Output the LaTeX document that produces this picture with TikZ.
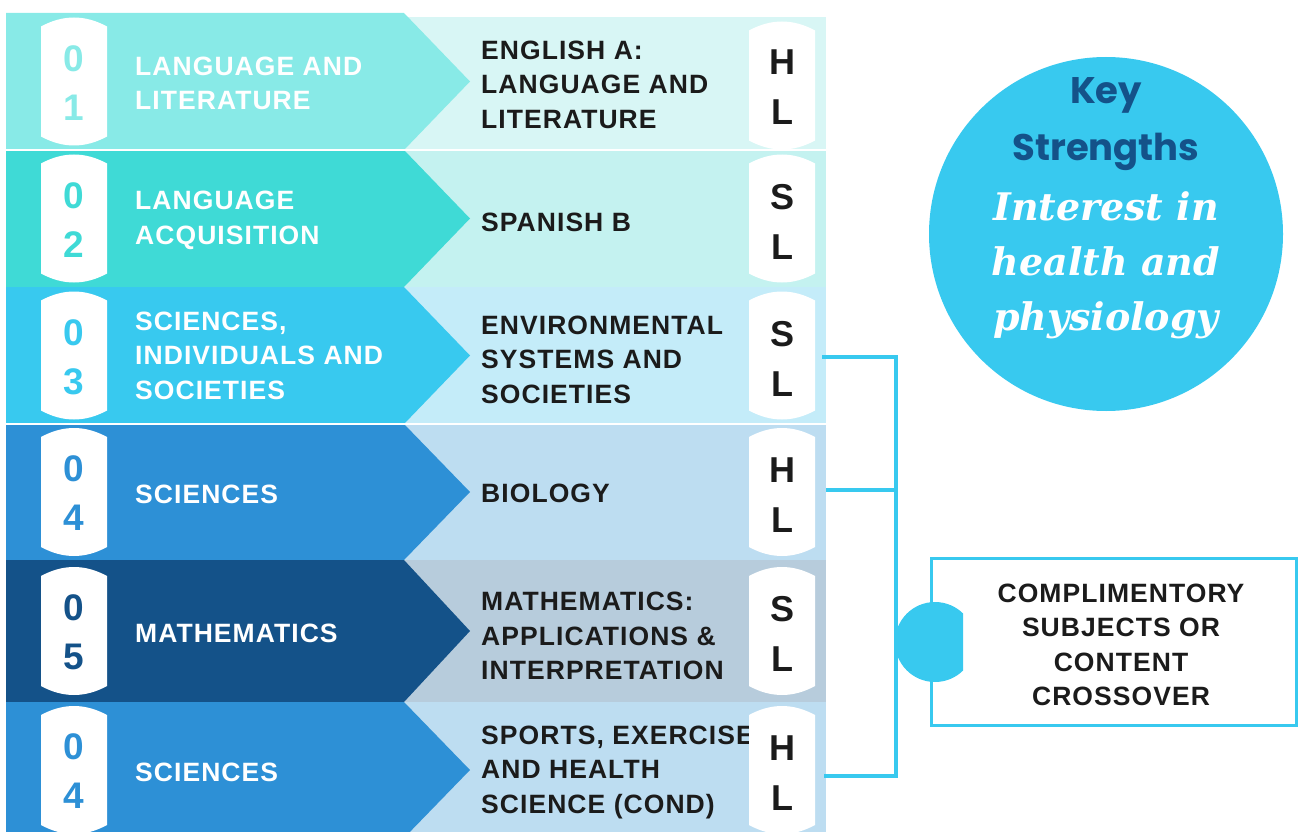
\documentclass[tikz,border=0pt]{standalone}
\usepackage{fontspec}
\setmainfont{Liberation Sans}[LetterSpace=4]
\newfontfamily\keyfont{Poppins}
\newfontfamily\strongfont{DejaVu Serif}

\definecolor{litdark}{HTML}{88EAE7}
\definecolor{litlight}{HTML}{D8F6F5}
\definecolor{acqdark}{HTML}{3FDAD6}
\definecolor{acqlight}{HTML}{C4F2F0}
\definecolor{socdark}{HTML}{38C9EF}
\definecolor{soclight}{HTML}{C4ECF9}
\definecolor{scidark}{HTML}{2D90D6}
\definecolor{scilight}{HTML}{BDDDF1}
\definecolor{mathdark}{HTML}{145289}
\definecolor{mathlight}{HTML}{B7CCDC}
\definecolor{sky}{HTML}{38C9EF}
\definecolor{ink}{HTML}{1B1B1B}

\begin{document}
\begin{tikzpicture}[x=1pt, y=-1pt,
  lefttext/.style={anchor=west, align=left, inner sep=0, text=white,
    font=\bfseries\fontsize{26.5}{34.5}\selectfont},
  righttext/.style={lefttext, text=ink},
  digits/.style={align=center, inner sep=0,
    font=\bfseries\fontsize{37}{49}\selectfont},
  level/.style={align=center, inner sep=0, text=ink,
    font=\bfseries\fontsize{36}{50}\selectfont},
  link/.style={draw=sky, line width=3.5pt},
  pics/badge/.style={code={
    \fill[white] (-33,-55) .. controls (-11,-67) and (11,-67) .. (33,-55)
      -- (33,55) .. controls (11,67) and (-11,67) .. (-33,55) -- cycle;}}]
\useasboundingbox (0,0) rectangle (1301,832);

% subject bands
\fill[litlight] (404,17) rectangle (826,150);
\fill[acqlight] (404,150) rectangle (826,287);
\fill[soclight] (404,287) rectangle (826,424);
\fill[scilight] (404,424) rectangle (826,560);
\fill[mathlight] (404,560) rectangle (826,702);
\fill[scilight] (404,702) rectangle (826,838);

% group arrows
\fill[litdark] (6,13) -- (404,13) -- (470,81.5) -- (404,150) -- (6,150) -- cycle;
\fill[acqdark] (6,150) -- (404,150) -- (470,218.5) -- (404,287) -- (6,287) -- cycle;
\fill[socdark] (6,287) -- (404,287) -- (470,355.5) -- (404,424) -- (6,424) -- cycle;
\fill[scidark] (6,424) -- (404,424) -- (470,492) -- (404,560) -- (6,560) -- cycle;
\fill[mathdark] (6,560) -- (404,560) -- (470,631) -- (404,702) -- (6,702) -- cycle;
\fill[scidark] (6,702) -- (404,702) -- (470,770) -- (404,838) -- (6,838) -- cycle;
\draw[white, line width=1.5pt] (6,150) -- (826,150) (6,424) -- (826,424);

% number badges
\pic at (74,81.5) {badge};
\pic at (74,218.5) {badge};
\pic at (74,355.5) {badge};
\pic at (74,492) {badge};
\pic at (74,631) {badge};
\pic at (74,770) {badge};
\node[digits, text=litdark] (n1) at (74,83) {0\\1};
\node[digits, text=acqdark] (n2) at (74,220) {0\\2};
\node[digits, text=socdark] (n3) at (74,357) {0\\3};
\node[digits, text=scidark] (n4) at (74,493.5) {0\\4};
\node[digits, text=mathdark] (n5) at (74,632.5) {0\\5};
\node[digits, text=scidark] (n6) at (74,771.5) {0\\4};

\node[lefttext] (g1) at (135,83.5) {LANGUAGE AND\\LITERATURE};
\node[lefttext] (g2) at (135,220.5) {LANGUAGE\\ACQUISITION};
\node[lefttext] (g3) at (135,355.5) {SCIENCES,\\INDIVIDUALS AND\\SOCIETIES};
\node[lefttext] (g4) at (135,494) {SCIENCES};
\node[lefttext] (g5) at (135,633) {MATHEMATICS};
\node[lefttext] (g6) at (135,772) {SCIENCES};

\node[righttext] (s1) at (481,84.5) {ENGLISH A:\\LANGUAGE AND\\LITERATURE};
\node[righttext] (s2) at (481,222.5) {SPANISH B};
\node[righttext] (s3) at (481,359.5) {ENVIRONMENTAL\\SYSTEMS AND\\SOCIETIES};
\node[righttext] (s4) at (481,493) {BIOLOGY};
\node[righttext] (s5) at (481,636) {MATHEMATICS:\\APPLICATIONS \&\\INTERPRETATION};
\node[righttext] (s6) at (481,772) {SPORTS, EXERCISE\\AND HEALTH\\SCIENCE (COND)};

% level badges
\pic at (782,85.5) {badge};
\pic at (782,218.5) {badge};
\pic at (782,355.5) {badge};
\pic at (782,492) {badge};
\pic at (782,631) {badge};
\pic at (782,770) {badge};
\node[level] (l1) at (782,87) {H\\L};
\node[level] (l2) at (782,222) {S\\L};
\node[level] (l3) at (782,358.5) {S\\L};
\node[level] (l4) at (782,495) {H\\L};
\node[level] (l5) at (782,634) {S\\L};
\node[level] (l6) at (782,773) {H\\L};

% crossover bracket
\coordinate (b3) at (822,357);
\coordinate (b4) at (826,490);
\coordinate (b6) at (824,776);
\coordinate (j3) at (896,357);
\coordinate (j4) at (896,490);
\coordinate (j6) at (896,776);
\draw[link] (b3) -- (j3) -- (j6) -- (b6) (b4) -- (j4);

\node[draw=sky, line width=3pt, minimum width=365pt, minimum height=167pt,
  inner sep=0] (cross) at (1114,641.5) {};
\begin{scope}
\clip (880,590) rectangle (963,700);
\fill[sky] (935,642) circle (40);
\end{scope}
\node[righttext, anchor=center, align=center] (crosstext) at (1121,645)
  {COMPLIMENTORY\\SUBJECTS OR\\CONTENT\\CROSSOVER};

% key strengths
\node[circle, fill=sky, minimum size=354pt, inner sep=0] (key) at (1106,234) {};
\node[align=center, inner sep=0, text=mathdark,
  font=\keyfont\bfseries\fontsize{37}{57}\selectfont] (keyhead) at (1106,124)
  {Key\\Strengths};
\node[align=center, inner sep=0, text=white,
  font=\strongfont\bfseries\itshape\fontsize{38}{55}\selectfont] (keybody) at (1106,265)
  {Interest in\\health and\\physiology};
\end{tikzpicture}
\end{document}
